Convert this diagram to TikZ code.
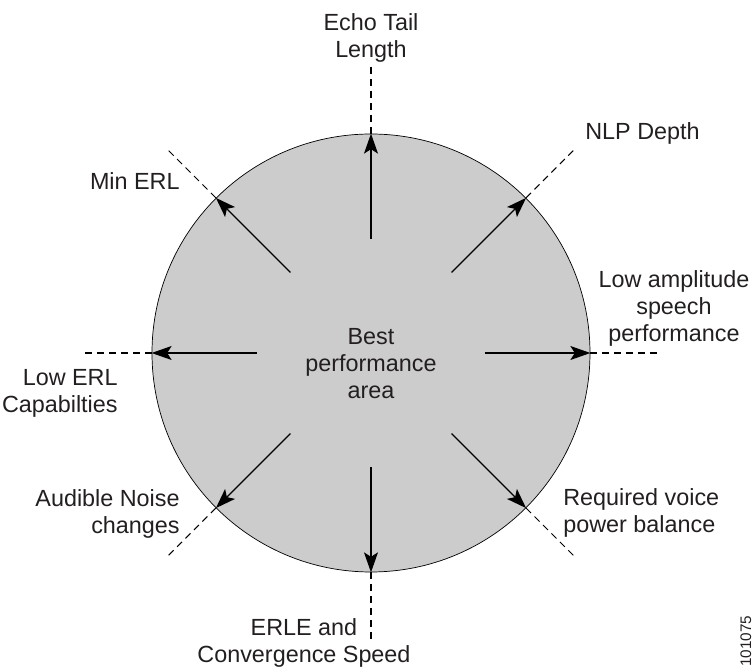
\documentclass[tikz,border=0pt]{standalone}
\usepackage{fontspec}
\setmainfont{Liberation Sans}
\usepackage{tikz}
\usetikzlibrary{arrows.meta, calc}
\definecolor{ink}{HTML}{231F20}
\tikzset{
  every node/.style={align=center, inner sep=0pt, text=ink,
    font=\fontsize{13.3}{15.4}\selectfont}
}

\begin{document}
\begin{tikzpicture}
\tikzstyle{disc}=[circle, draw, thin, fill=black!20, minimum size=8.76cm]
\tikzstyle{ray}=[-{Stealth[length=4mm, width=2.8mm, inset=0.9mm]}, draw,
  line width=0.65pt]
\tikzstyle{guide}=[draw, line width=0.6pt, dash pattern=on 4pt off 2.8pt]

\useasboundingbox (-7.42,-6.34) rectangle (7.64,7.06);

% performance area
\node[disc](area) at (0,0){};
\node[anchor=north](best) at (0,0.50){Best\\performance\\area};

% rays out of the area, one every 45 degrees
\foreach \a in {0,45,...,315}{
  \coordinate (t\a) at (\a:2.28);
  \coordinate (o\a) at (\a:5.78);
  \draw[ray](t\a) -- (area.\a);
  \draw[guide](area.\a) -- (o\a);
}

% labels
\node[anchor=south](echo) at (0,5.80){Echo Tail\\Length};
\node[anchor=base west](nlp) at (4.28,4.26){NLP Depth};
\node[anchor=base east](minerl) at (-3.82,3.26){Min ERL};
\node[anchor=south](lowamp) at (6.06,0.12){Low amplitude\\speech\\performance};
\node[anchor=south east, align=right](lowerl) at (-5.06,-1.30)
  {Low ERL\\Capabilties};
\node[anchor=south east, align=right](noise) at (-3.82,-3.72)
  {Audible Noise\\changes};
\node[anchor=south west, align=left](power) at (3.84,-3.70)
  {Required voice\\power balance};
\node[anchor=south](erle) at (-1.34,-6.30){ERLE and\\Convergence Speed};

% figure number
\node[rotate=90, anchor=base west, font=\fontsize{8.7}{10}\selectfont]
  (fig) at (7.60,-6.28){101075};

\end{tikzpicture}
\end{document}
